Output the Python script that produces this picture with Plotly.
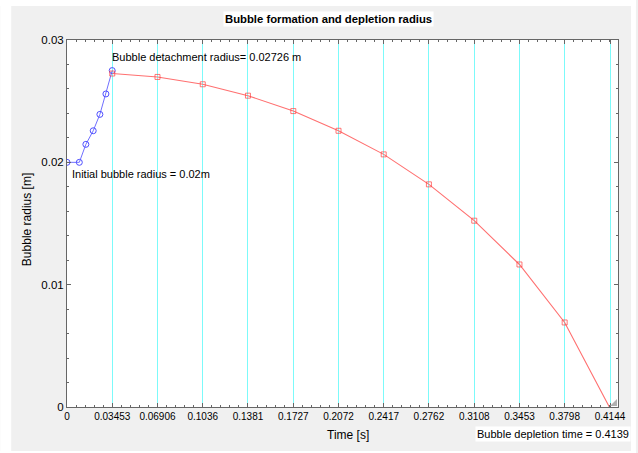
import plotly.graph_objects as go

# Data
tick_step = 0.03453
x_tickvals = [0, 0.03453, 0.06906, 0.1036, 0.1381, 0.1727, 0.2072, 0.2417, 0.2762, 0.3108, 0.3453, 0.3798, 0.4144]
x_ticktext = ["0", "0.03453", "0.06906", "0.1036", "0.1381", "0.1727", "0.2072", "0.2417", "0.2762", "0.3108", "0.3453", "0.3798", "0.4144"]

form_t = [0.0, 0.0094, 0.0144, 0.0200, 0.0251, 0.0297, 0.0345]
form_r = [0.0200, 0.0200, 0.02147, 0.02258, 0.02392, 0.02559, 0.0275]

depl_t = [0.03453, 0.06906, 0.1036, 0.1381, 0.1727, 0.2072, 0.2417, 0.2762, 0.3108, 0.3453, 0.3798, 0.4139]
depl_r = [0.02726, 0.02698, 0.02638, 0.02545, 0.02419, 0.02258, 0.02065, 0.01820, 0.01523, 0.01165, 0.00691, 0.0]
depl_marker_sizes = [5] * (len(depl_t) - 1) + [0]

W, H = 638, 453
L, R, T, B = 67, 18, 40, 46
PW, PH = W - L - R, H - T - B

def px(x):
    return (x - L) / PW

def py(y):
    return (H - B - y) / PH

fig = go.Figure()
fig.add_trace(go.Scatter(
    x=form_t, y=form_r, mode="lines+markers",
    line=dict(color="#7070ff", width=1),
    marker=dict(symbol="circle-open", size=6, color="#5050ff", line=dict(width=1)),
    showlegend=False, hoverinfo="skip"))
fig.add_trace(go.Scatter(
    x=depl_t, y=depl_r, mode="lines+markers",
    line=dict(color="#ff7070", width=1.1),
    marker=dict(symbol="square-open", size=depl_marker_sizes, color="#ff4040", line=dict(width=1)),
    showlegend=False, hoverinfo="skip", cliponaxis=False))

font = "Liberation Sans, Arial, sans-serif"
fig.update_layout(
    width=W, height=H,
    margin=dict(l=L, r=R, t=T, b=B, pad=0),
    paper_bgcolor="#f0f0f0", plot_bgcolor="white",
    font=dict(family=font, color="black"),
    xaxis=dict(
        range=[0, 0.4205], tickvals=x_tickvals, ticktext=x_ticktext,
        tickfont=dict(size=10), ticks="inside", ticklen=4, tickcolor="#666",
        showgrid=True, gridcolor="#7cfafa", gridwidth=1.3,
        showline=True, linecolor="#666", linewidth=1, mirror="ticks",
        zeroline=False,
        minor=dict(dtick=tick_step / 5, tick0=0, ticks="inside", ticklen=2, tickcolor="#666", showgrid=False),
    ),
    yaxis=dict(
        range=[0, 0.03], tickvals=[0, 0.01, 0.02, 0.03], ticktext=["0", "0.01", "0.02", "0.03"],
        tickfont=dict(size=11.5), ticks="inside", ticklen=4, tickcolor="#666",
        showgrid=False, showline=True, linecolor="#666", linewidth=1, mirror="ticks",
        zeroline=False,
        minor=dict(dtick=0.002, tick0=0, ticks="inside", ticklen=2, tickcolor="#666", showgrid=False),
    ),
    annotations=[
        dict(text="<b>Bubble formation and depletion radius</b>", xref="paper", yref="paper",
             x=px(329), y=py(19), xanchor="center", yanchor="middle", showarrow=False,
             font=dict(size=11.3), bgcolor="white", borderpad=1),
        dict(text="Time [s]", xref="paper", yref="paper", x=px(349), y=py(435),
             xanchor="center", yanchor="middle", showarrow=False, font=dict(size=12)),
        dict(text="Bubble radius [m]", xref="paper", yref="paper", x=px(27), y=py(220),
             xanchor="center", yanchor="middle", showarrow=False, textangle=-90, font=dict(size=12)),
        dict(text="Bubble depletion time = 0.4139", xref="paper", yref="paper", x=px(633), y=py(434),
             xanchor="right", yanchor="middle", showarrow=False, font=dict(size=11),
             bgcolor="white", borderpad=1),
        dict(text="Bubble detachment radius= 0.02726 m", xref="paper", yref="paper", x=px(110), y=py(57),
             xanchor="left", yanchor="middle", showarrow=False, font=dict(size=11)),
        dict(text="Initial bubble radius = 0.02m", xref="paper", yref="paper", x=px(70), y=py(174),
             xanchor="left", yanchor="middle", showarrow=False, font=dict(size=11)),
    ],
    shapes=[
        # white outer border
        dict(type="rect", xref="paper", yref="paper", x0=px(0), x1=px(11), y0=py(H), y1=py(0),
             fillcolor="white", line=dict(width=0), layer="above"),
        dict(type="rect", xref="paper", yref="paper", x0=px(633), x1=px(W), y0=py(H), y1=py(0),
             fillcolor="white", line=dict(width=0), layer="above"),
        dict(type="rect", xref="paper", yref="paper", x0=px(0), x1=px(W), y0=py(6), y1=py(0),
             fillcolor="white", line=dict(width=0), layer="above"),
        dict(type="rect", xref="paper", yref="paper", x0=px(0), x1=px(W), y0=py(H), y1=py(451),
             fillcolor="white", line=dict(width=0), layer="above"),
        # resize grip
        dict(type="path", xref="paper", yref="paper",
             path=f"M {px(619)} {py(399)} L {px(619)} {py(406)} L {px(612)} {py(406)} Z",
             fillcolor="#b0b0b0", line=dict(width=0), layer="above"),
    ],
)

fig.write_html("out.html")
